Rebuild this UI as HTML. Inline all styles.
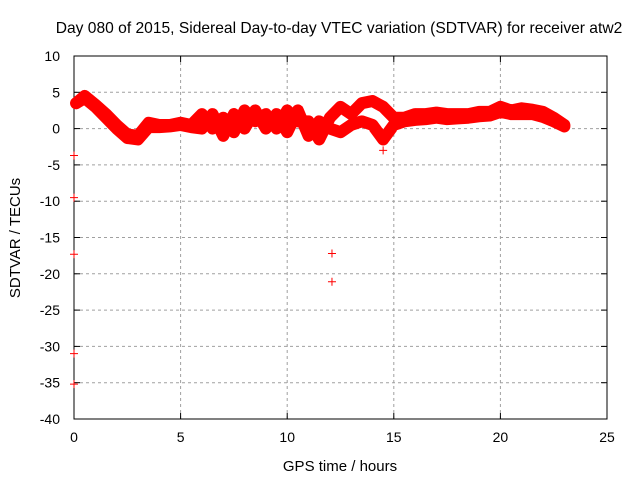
<!DOCTYPE html>
<html><head><meta charset="utf-8"><style>
body{margin:0;background:#fff}
svg{font-family:"Liberation Sans",sans-serif;font-size:14px}
</style></head><body>
<svg id="c" width="640" height="480">
<text x="339" y="33" text-anchor="middle" style="font-size:15.6px">Day 080 of 2015, Sidereal Day-to-day VTEC variation (SDTVAR) for receiver atw2</text>
<text x="340" y="471" text-anchor="middle" style="font-size:15px">GPS time / hours</text>
<text transform="translate(20,238) rotate(-90)" text-anchor="middle" style="font-size:15px">SDTVAR / TECUs</text>
<g id="grid"></g><g id="axes"></g><g id="data"></g>
</svg>
<script>
const xTicks=[0,5,10,15,20,25];
const yTicks=[10,5,0,-5,-10,-15,-20,-25,-30,-35,-40];
const hours=[0.1,0.5,1,1.5,2,2.5,3,3.5,4,4.5,5,5.5,6,6.5,7,7.5,8,8.5,9,9.5,10,10.5,11,11.5,12,12.5,13,13.5,14,14.5,15,15.5,16,16.5,17,17.5,18,18.5,19,19.5,20,20.5,21,21.5,22,22.5,23];
const upper=[3.5,4.5,3.3,2,0.5,-0.8,-1,0.8,0.5,0.5,0.8,0.5,2,0,1.5,-0.5,2.5,1,2,0,2.5,1,1,-1.5,1.5,3,2,3.5,3.8,3,1.5,1.5,2,2,2.2,2,2,2,2.3,2.3,3,2.5,2.8,2.6,2.3,1.5,0.5];
const lower=[3.5,4.2,3,1.5,0,-1.3,-1.5,0.2,0.2,0.3,0.5,0.2,0,2,-1,2,0,2.5,0,2,-0.5,2.5,-1,1,0,-0.5,0.5,1,0.5,-1.5,0.5,1,1.2,1.3,1.5,1.3,1.4,1.5,1.7,1.8,2.3,2,2,2,1.6,1,0.3];
const outT=[0,0,0,0,0,12.1,12.1,14.5];
const outV=[-3.7,-9.5,-17.3,-31,-35.2,-17.2,-21.1,-3];
const X0=74,X1=607,Y0=56,Y1=419;
const xs=v=>X0+(v-0)/25*(X1-X0);
const ys=v=>Y0+(10-v)/50*(Y1-Y0);
const NS="http://www.w3.org/2000/svg";
function mk(t,a,p){const e=document.createElementNS(NS,t);for(const k in a)e.setAttribute(k,a[k]);p.appendChild(e);return e;}
const grid=document.getElementById('grid'),axes=document.getElementById('axes'),data=document.getElementById('data');
xTicks.forEach(v=>{const x=xs(v);
 if(v>0&&v<25){const l=mk('line',{x1:x,x2:x,y1:Y0,y2:Y1,stroke:'#a0a0a0','stroke-dasharray':'3,3'},grid);
 }
 mk('line',{x1:x,x2:x,y1:Y1,y2:Y1-6,stroke:'#000'},axes);mk('line',{x1:x,x2:x,y1:Y0,y2:Y0+6,stroke:'#000'},axes);
 const t=mk('text',{x:x,y:Y1+23,'text-anchor':'middle'},axes);t.textContent=v;
 });
yTicks.forEach(v=>{const y=ys(v);
 if(v<10&&v>-40){const l=mk('line',{x1:X0,x2:X1,y1:y,y2:y,stroke:'#a0a0a0','stroke-dasharray':'3,3'},grid);
 }
 mk('line',{x1:X0,x2:X0+6,y1:y,y2:y,stroke:'#000'},axes);mk('line',{x1:X1,x2:X1-6,y1:y,y2:y,stroke:'#000'},axes);
 const t=mk('text',{x:X0-14,y:y+5,'text-anchor':'end'},axes);t.textContent=v;
 });
const fr=mk('rect',{x:X0,y:Y0,width:X1-X0,height:Y1-Y0,fill:'none',stroke:'#000'},axes);

[upper,lower].forEach((s,i)=>{
 const pts=hours.map((h,j)=>xs(h)+','+ys(s[j])).join(' ');
 const p=mk('polyline',{points:pts,fill:'none',stroke:'#f00','stroke-width':12,'stroke-linejoin':'round','stroke-linecap':'round'},data);
 
});
outT.forEach((h,j)=>{const x=xs(h),y=ys(outV[j]);
 const g=mk('path',{d:`M${x-4},${y}h8M${x},${y-4}v8`,stroke:'#f00','stroke-width':1},data);
 });
</script>
</body></html>
